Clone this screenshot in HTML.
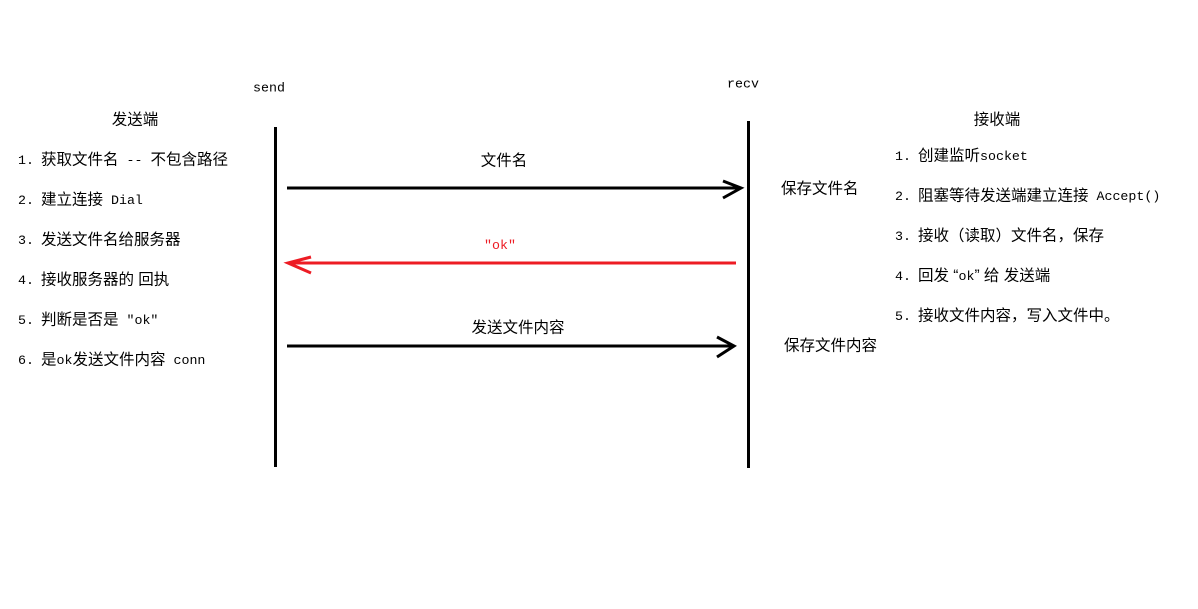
<!DOCTYPE html>
<html><head><meta charset="utf-8"><style>
html,body{margin:0;padding:0;background:#fff;}
svg{display:block;}
text{font-family:"Liberation Sans","Noto Sans CJK SC",sans-serif;font-size:15.5px;fill:#000;dominant-baseline:central;}
.m{font-family:"Liberation Mono","Noto Sans CJK SC",monospace;font-size:13.3px;}
tspan.l{font-family:"Liberation Mono",monospace;font-size:13.3px;}
</style></head><body>
<svg width="1198" height="609" viewBox="0 0 1198 609" xmlns="http://www.w3.org/2000/svg">
<rect width="1198" height="609" fill="#fff"/>
<text class="m" x="253" y="88">send</text>
<text class="m" x="727" y="84">recv</text>
<rect x="274" y="127" width="3" height="340" fill="#000"/>
<rect x="747" y="121" width="3" height="347" fill="#000"/>
<line x1="287" y1="188" x2="740" y2="188" stroke="#000" stroke-width="3"/>
<polyline points="723,181 741,188 723,198" fill="none" stroke="#000" stroke-width="3"/>
<line x1="289" y1="263" x2="736" y2="263" stroke="#ed1c24" stroke-width="3"/>
<polyline points="311,257 288,263 311,273" fill="none" stroke="#ed1c24" stroke-width="3"/>
<line x1="287" y1="346" x2="733" y2="346" stroke="#000" stroke-width="3"/>
<polyline points="717,337 734,346 717,357" fill="none" stroke="#000" stroke-width="3"/>
<text x="504" y="161" text-anchor="middle">文件名</text>
<text x="500" y="245" text-anchor="middle" style="fill:#ed1c24"><tspan class="l" style="fill:#ed1c24">"ok"</tspan></text>
<text x="518" y="328" text-anchor="middle">发送文件内容</text>
<text x="781" y="189">保存文件名</text>
<text x="784" y="346">保存文件内容</text>
<text x="135" y="120" text-anchor="middle">发送端</text>
<text x="18" y="160"><tspan class="l">1.</tspan></text><text x="41" y="160">获取文件名<tspan class="l"> -- </tspan>不包含路径</text>
<text x="18" y="200"><tspan class="l">2.</tspan></text><text x="41" y="200">建立连接<tspan class="l"> Dial</tspan></text>
<text x="18" y="240"><tspan class="l">3.</tspan></text><text x="41" y="240">发送文件名给服务器</text>
<text x="18" y="280"><tspan class="l">4.</tspan></text><text x="41" y="280">接收服务器的 回执</text>
<text x="18" y="320"><tspan class="l">5.</tspan></text><text x="41" y="320">判断是否是<tspan class="l"> "ok"</tspan></text>
<text x="18" y="360"><tspan class="l">6.</tspan></text><text x="41" y="360">是<tspan class="l">ok</tspan>发送文件内容<tspan class="l"> conn</tspan></text>
<text x="997" y="120" text-anchor="middle">接收端</text>
<text x="895" y="156"><tspan class="l">1.</tspan></text><text x="918" y="156">创建监听<tspan class="l">socket</tspan></text>
<text x="895" y="196"><tspan class="l">2.</tspan></text><text x="918" y="196">阻塞等待发送端建立连接<tspan class="l"> Accept()</tspan></text>
<text x="895" y="236"><tspan class="l">3.</tspan></text><text x="918" y="236">接收（读取）文件名，保存</text>
<text x="895" y="276"><tspan class="l">4.</tspan></text><text x="918" y="276">回发 “<tspan class="l">ok</tspan>” 给 发送端</text>
<text x="895" y="316"><tspan class="l">5.</tspan></text><text x="918" y="316">接收文件内容，写入文件中。</text>
</svg>
</body></html>
